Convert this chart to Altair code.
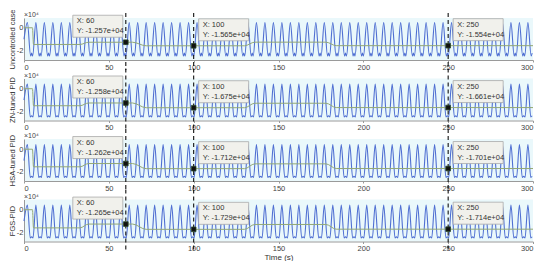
import altair as alt
import pandas as pd

# ---------------- data ----------------
panel_names = ["Uncontrolled case", "ZN-tuned PID", "HSA-tuned PID", "FGS-PID"]
x_tick_values = [0, 50, 100, 150, 200, 250, 300]
y_tick_values = [0, -2]
y_domains = [[-2.8, 0.85], [-2.8, 0.9], [-2.8, 0.9], [-2.8, 0.9]]   # units of 1e4

tip_times = [60, 100, 250]
tip_values = [
    [-1.257e4, -1.565e4, -1.554e4],
    [-1.258e4, -1.675e4, -1.661e4],
    [-1.262e4, -1.712e4, -1.701e4],
    [-1.265e4, -1.729e4, -1.714e4],
]

# smooth (green) output: breakpoints (s) and levels (x1e4)
green_t = [0, 5, 5.6, 33, 38, 64, 72, 130, 136, 178, 184, 300]
green_v = [
    [0, 0, -1.45, -1.45, -1.257, -1.257, -1.565, -1.565, -1.25, -1.25, -1.554, -1.554],
    [0, 0, -1.50, -1.50, -1.258, -1.258, -1.675, -1.675, -1.28, -1.28, -1.661, -1.661],
    [0, 0, -1.55, -1.55, -1.262, -1.262, -1.712, -1.712, -1.29, -1.29, -1.701, -1.701],
    [0, 0, -1.60, -1.60, -1.265, -1.265, -1.729, -1.729, -1.30, -1.30, -1.714, -1.714],
]

# oscillating (blue) output: one peak / trough description per cycle (x1e4)
period_s = 5.0
first_peak_s = 2.0
n_cycles = 60
start_level = [-1.0, -1.0, -1.0, -1.0]
peak_level = [0.45, 0.42, 0.42, 0.42]
trough_level = [-2.45, -2.48, -2.48, -2.48]
trough_mid = [-2.2, -2.38, -2.38, -2.38]
trough_half_width = [0.6, 0.8, 0.8, 0.8]

# ---------------- tables ----------------
wave_rows = []
for i in range(4):
    wave_rows.append({"panel": i, "t": 0.0, "v": start_level[i]})
    for k in range(n_cycles):
        tp = first_peak_s + k * period_s
        if tp > 300:
            break
        wave_rows.append({"panel": i, "t": tp, "v": peak_level[i]})
        tc = tp + period_s / 2
        for dt, lv in [(-trough_half_width[i], trough_level[i]), (0, trough_mid[i]),
                       (trough_half_width[i], trough_level[i])]:
            if tc + dt <= 300:
                wave_rows.append({"panel": i, "t": tc + dt, "v": lv})
wave_df = pd.DataFrame(wave_rows)

green_df = pd.DataFrame([
    {"panel": i, "t": t, "v": v}
    for i in range(4) for t, v in zip(green_t, green_v[i])
])

tip_rows = []
for i in range(4):
    for j, t in enumerate(tip_times):
        val = tip_values[i][j]
        tip_rows.append({
            "panel": i, "t": t, "v": val / 1e4,
            "side": "left" if j == 0 else "right",
            "lx": f"X: {t}",
            "ly": "Y: " + f"{val:.3e}",
        })
tip_df = pd.DataFrame(tip_rows)

BLUE = "#4f6fd2"
GREEN = "#93a876"
W, H = 509, 42
FONT = "Liberation Sans"


def make_panel(i):
    last = i == 3
    x_enc = alt.X(
        "t:Q",
        scale=alt.Scale(domain=[0, 300], nice=False, zero=False),
        axis=alt.Axis(values=x_tick_values, labelFontSize=7.5, tickSize=2,
                      labelPadding=1, titleFontSize=8, titlePadding=1,
                      titleFontWeight="normal"),
        title="Time (s)" if last else None,
    )
    y_enc = alt.Y(
        "v:Q",
        scale=alt.Scale(domain=y_domains[i], nice=False, zero=False),
        axis=alt.Axis(values=y_tick_values, labelExpr="toString(datum.value)",
                      labelFontSize=7.5, ticks=False, labelPadding=1,
                      titleFontSize=7.5, titlePadding=0, titleFontWeight="normal"),
        title=panel_names[i],
    )
    wd = wave_df[wave_df.panel == i]
    gd = green_df[green_df.panel == i]
    td = tip_df[tip_df.panel == i]
    tl = td[td.side == "left"]
    tr = td[td.side == "right"]

    wave = alt.Chart(wd).mark_line(color=BLUE, strokeWidth=1.1, interpolate="monotone").encode(x=x_enc, y=y_enc)
    green = alt.Chart(gd).mark_line(color=GREEN, strokeWidth=1.0, interpolate="monotone").encode(x="t:Q", y="v:Q")
    rules = alt.Chart(td).mark_rule(color="#111", strokeWidth=1.1, strokeDash=[4, 3]).encode(
        x="t:Q", y=alt.value(-5 if i == 0 else -10), y2=alt.value(H + 10))

    def box(df, x0, x1):
        return alt.Chart(df).mark_rect(fill="#f1f1ec", stroke="#a9a9a9", strokeWidth=0.8,
                                       xOffset=x0, x2Offset=x1, yOffset=-27, y2Offset=-5).encode(
            x="t:Q", x2="t:Q", y="v:Q", y2="v:Q")

    def txt(df, dx, dy, field):
        return alt.Chart(df).mark_text(align="left", baseline="middle", fontSize=7.5,
                                       color="#333", dx=dx, dy=dy, font=FONT).encode(
            x="t:Q", y="v:Q", text=f"{field}:N")

    squares = alt.Chart(td).mark_square(size=22, fill="#111", stroke="#2c4a2c",
                                        strokeWidth=0.8, opacity=1).encode(x="t:Q", y="v:Q")
    mult = alt.Chart(pd.DataFrame({"s": ["×10⁴"]})).mark_text(
        align="left", baseline="bottom", fontSize=7, color="#444", font=FONT).encode(
        x=alt.value(0), y=alt.value(0), text="s:N")

    layers = [wave, green, rules,
              box(tl, -53, -3), box(tr, 5, 55),
              txt(tl, -49, -21, "lx"), txt(tl, -49, -11, "ly"),
              txt(tr, 9, -21, "lx"), txt(tr, 9, -11, "ly"),
              squares, mult]
    return alt.layer(*layers).properties(width=W, height=H)


chart = alt.vconcat(*[make_panel(i) for i in range(4)], spacing=18.5, bounds="flush").configure_view(
    fill="#eaf8fb", stroke=None
).configure_axis(
    grid=False, domainColor="#9a9a9a", tickColor="#9a9a9a", labelColor="#444",
    titleColor="#333", labelFont=FONT, titleFont=FONT
).properties(padding={"left": 0, "right": 1, "top": 0, "bottom": 0})

chart.save("out.html", embed_options={"renderer": "svg", "actions": False})
